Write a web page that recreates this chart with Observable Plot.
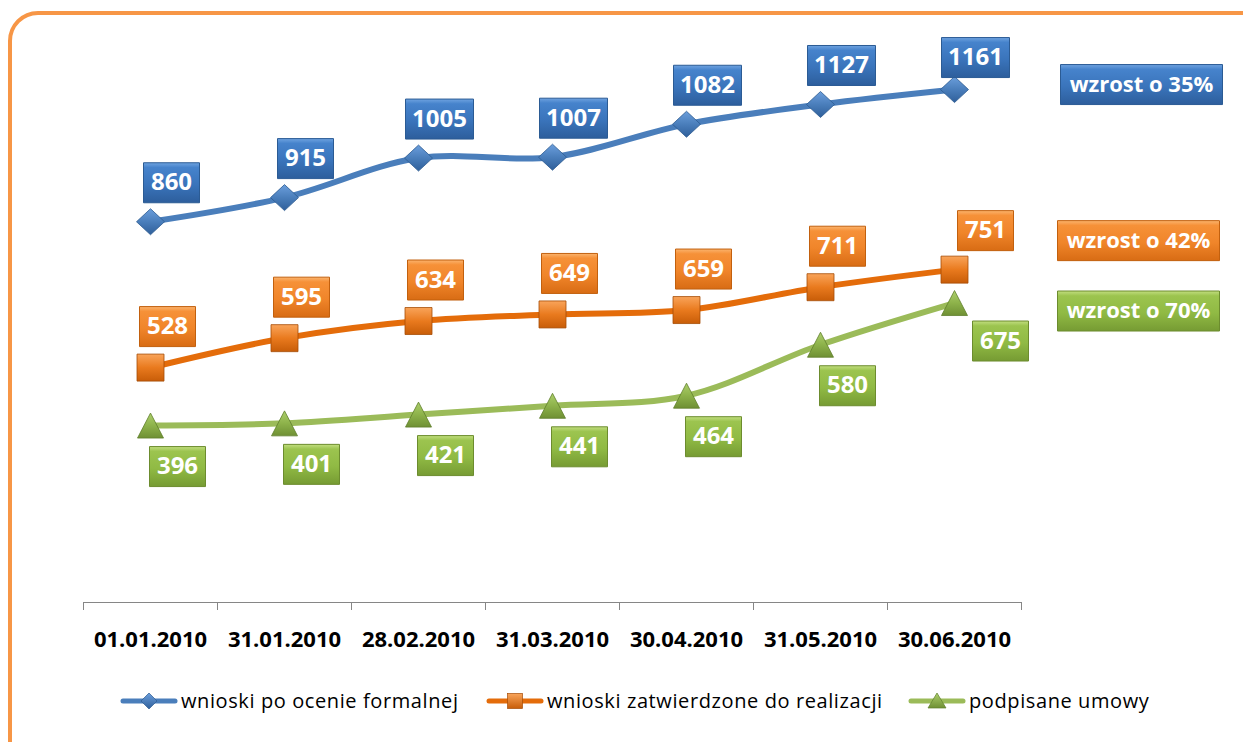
<!DOCTYPE html>
<html><head><meta charset="utf-8">
<script src="https://cdn.jsdelivr.net/npm/d3@7"></script>
<script src="https://cdn.jsdelivr.net/npm/@observablehq/plot@0.6"></script>
<style>
html,body{margin:0;padding:0;background:#fff;width:1243px;height:742px;overflow:hidden;font-family:"Open Sans",sans-serif;}
#frame{position:absolute;left:8px;top:11px;width:1300px;height:800px;border:4px solid #F79646;border-radius:30px;box-sizing:border-box;}
#chart{position:absolute;left:0;top:0;}
#legend{position:absolute;top:687px;left:0;width:1243px;height:26px;}
.item{position:absolute;top:0;display:flex;align-items:center;font-size:20px;letter-spacing:0.6px;color:#000;white-space:nowrap;}
.item svg{margin-right:3px;}
</style></head><body>
<div id="frame"></div>
<div id="chart"></div>
<div id="legend"></div>
<script>
// ---- data ----
const dates = ["01.01.2010","31.01.2010","28.02.2010","31.03.2010","30.04.2010","31.05.2010","30.06.2010"];
const seriesNames = ["wnioski po ocenie formalnej","wnioski zatwierdzone do realizacji","podpisane umowy"];
const formalValues   = [860, 915, 1005, 1007, 1082, 1127, 1161];
const approvedValues = [528, 595, 634, 649, 659, 711, 751];
const signedValues   = [396, 401, 421, 441, 464, 580, 675];

// ---- build ----
const rows = s => dates.map((d,i)=>({date:d, value:s[i], i}));
const blue = rows(formalValues), orange = rows(approvedValues), green = rows(signedValues);
const growth = s => `wzrost o ${Math.round((s[s.length-1]/s[0]-1)*100)}%`;

function polySymbol(pts){
  return {draw(ctx){ctx.moveTo(pts[0][0],pts[0][1]);for(let k=1;k<pts.length;k++)ctx.lineTo(pts[k][0],pts[k][1]);ctx.closePath();}};
}
const rectSymbol = (w,h) => polySymbol([[-w/2,-h/2],[w/2,-h/2],[w/2,h/2],[-w/2,h/2]]);
const diamondSym = polySymbol([[0,-13],[14,0],[0,13],[-14,0]]);
const squareSym = rectSymbol(27,27);
const triangleSym = polySymbol([[0,-12.5],[13,12.5],[-13,12.5]]);
const FONT = "Open Sans";

function labels(data, grad, stroke, dx, dy, ldx, ldy){
  const out = [];
  const n = data.length-1;
  for (const [filt, ddx, ddy] of [[d=>d.i<n, dx, dy],[d=>d.i===n, ldx, ldy]]) {
    const sub = data.filter(filt);
    for (const w of [56,68]) {
      const s = sub.filter(d => (String(d.value).length>3) === (w===68));
      out.push(Plot.dot(s,{x:"date",y:"value",dx:ddx,dy:ddy,symbol:rectSymbol(w,40),fill:`url(#${grad})`,stroke,strokeWidth:1,ariaLabel:"box"}));
    }
    out.push(Plot.text(sub,{x:"date",y:"value",text:d=>String(d.value),dx:ddx,dy:ddy,fill:"white",fontWeight:"bold",fontSize:24,fontFamily:FONT,ariaLabel:"boxtext"}));
  }
  return out;
}
function growthMark(data, series, grad, stroke, dx, dy){
  const last = [data[data.length-1]];
  return [
    Plot.dot(last,{x:"date",y:"value",dx,dy,symbol:rectSymbol(162,40),fill:`url(#${grad})`,stroke,strokeWidth:1,ariaLabel:"box"}),
    Plot.text(last,{x:"date",y:"value",text:()=>growth(series),dx,dy,fill:"white",fontWeight:"bold",fontSize:22,fontFamily:FONT,ariaLabel:"boxtext"})
  ];
}

const plot = Plot.plot({
  width:1243, height:660,
  marginLeft:83, marginRight:222, marginTop:28, marginBottom:58,
  style:{fontFamily:FONT, color:"#000", background:"transparent", overflow:"visible"},
  x:{type:"band", domain:dates, padding:0},
  y:{domain:[0,1300], insetBottom:3, axis:null},
  marks:[
    Plot.ruleY([0],{dy:3, stroke:"#868686", strokeWidth:1.2}),
    Plot.axisX({tickSize:8, dx:-67, tickFormat:()=>"", stroke:"#868686", label:null}),
    Plot.axisX([dates[dates.length-1]],{tickSize:8, dx:67, tickFormat:()=>"", stroke:"#868686", label:null}),
    Plot.axisX({tickSize:0, tickPadding:29, fontSize:22, fontWeight:"bold", fontFamily:FONT, fill:"#000", label:null, ariaLabel:"xlabels"}),
    Plot.line(blue,{x:"date",y:"value",stroke:"#4A7EBB",strokeWidth:6,curve:"catmull-rom",strokeLinecap:"round"}),
    Plot.line(orange,{x:"date",y:"value",stroke:"#E46C0A",strokeWidth:6,curve:"catmull-rom",strokeLinecap:"round"}),
    Plot.line(green,{x:"date",y:"value",stroke:"#9BBB59",strokeWidth:6,curve:"catmull-rom",strokeLinecap:"round"}),
    Plot.dot(blue,{x:"date",y:"value",symbol:diamondSym,fill:"url(#mBlue)",stroke:"#2C5A90",strokeWidth:0.8,ariaLabel:"marker"}),
    Plot.dot(orange,{x:"date",y:"value",symbol:squareSym,fill:"url(#mOrange)",stroke:"#A64C06",strokeWidth:0.8,ariaLabel:"marker"}),
    Plot.dot(green,{x:"date",y:"value",symbol:triangleSym,fill:"url(#mGreen)",stroke:"#5F7F2C",strokeWidth:0.8,ariaLabel:"marker"}),
    ...labels(blue,"gBlue","#2B5B94",21,-39,21,-32),
    ...labels(orange,"gOrange","#C2600E",17,-41,31,-39),
    ...labels(green,"gGreen","#6C8C2E",27,41,46,38),
    ...growthMark(blue, formalValues, "gBlue","#2B5B94",187,-5),
    ...growthMark(orange, approvedValues, "gOrange","#C2600E",184,-29),
    ...growthMark(green, signedValues, "gGreen","#6C8C2E",184,8)
  ]
});
document.getElementById("chart").appendChild(plot);

// defs: gradients + shadow
const sv = d3.select(plot);
const defs = sv.insert("defs",":first-child");
function lin(id, stops){
  const g = defs.append("linearGradient").attr("id",id).attr("x1",0).attr("y1",0).attr("x2",0).attr("y2",1);
  stops.forEach(([o,c])=>g.append("stop").attr("offset",o).attr("stop-color",c));
}
lin("gBlue",[[0,"#6FA3E0"],[0.12,"#4683CC"],[0.55,"#3A74BB"],[1,"#2D5E9C"]]);
lin("gOrange",[[0,"#FBB46E"],[0.12,"#F69138"],[0.55,"#F0852A"],[1,"#D86C14"]]);
lin("gGreen",[[0,"#C2DE80"],[0.12,"#9CC44F"],[0.55,"#90BA44"],[1,"#769B33"]]);
lin("mBlue",[[0,"#6B9EDC"],[0.5,"#4A7EBB"],[1,"#2F5F9A"]]);
lin("mOrange",[[0,"#F9A45A"],[0.5,"#E97A1E"],[1,"#C85D08"]]);
lin("mGreen",[[0,"#ADCF6C"],[0.5,"#8DB24A"],[1,"#6F9034"]]);
const f = defs.append("filter").attr("id","sh").attr("x","-30%").attr("y","-30%").attr("width","160%").attr("height","170%");
f.append("feDropShadow").attr("dx",1.5).attr("dy",2.5).attr("stdDeviation",2).attr("flood-color","#000").attr("flood-opacity",0.35);
sv.selectAll('g[aria-label="box"], g[aria-label="marker"]').attr("filter","url(#sh)");
sv.selectAll('g[aria-label="xlabels"] text').attr("font-weight","bold");

// legend
const legendItems = [
  {name:seriesNames[0], color:"#4A7EBB", left:120, marker:'<path d="M29 2 L37 10 L29 18 L21 10 Z" fill="url(#lgB)" stroke="#2C5A90" stroke-width="0.7"/>', grad:["lgB","#6B9EDC","#2F5F9A"]},
  {name:seriesNames[1], color:"#E46C0A", left:486, marker:'<rect x="21.5" y="2.5" width="15" height="15" fill="url(#lgO)" stroke="#A64C06" stroke-width="0.7"/>', grad:["lgO","#F9A45A","#C85D08"]},
  {name:seriesNames[2], color:"#9BBB59", left:908, marker:'<path d="M29 2 L38 17 L20 17 Z" fill="url(#lgG)" stroke="#5F7F2C" stroke-width="0.7"/>', grad:["lgG","#ADCF6C","#6F9034"]}
];
const leg = document.getElementById("legend");
legendItems.forEach(it=>{
  const d = document.createElement("div");
  d.className="item"; d.style.left = it.left+"px";
  d.innerHTML = `<svg width="58" height="20" viewBox="0 0 58 20"><defs><linearGradient id="${it.grad[0]}" x1="0" y1="0" x2="0" y2="1"><stop offset="0" stop-color="${it.grad[1]}"/><stop offset="1" stop-color="${it.grad[2]}"/></linearGradient></defs><line x1="3" y1="10" x2="55" y2="10" stroke="${it.color}" stroke-width="5" stroke-linecap="round"/>${it.marker}</svg><span>${it.name}</span>`;
  leg.appendChild(d);
});
</script>
</body></html>
